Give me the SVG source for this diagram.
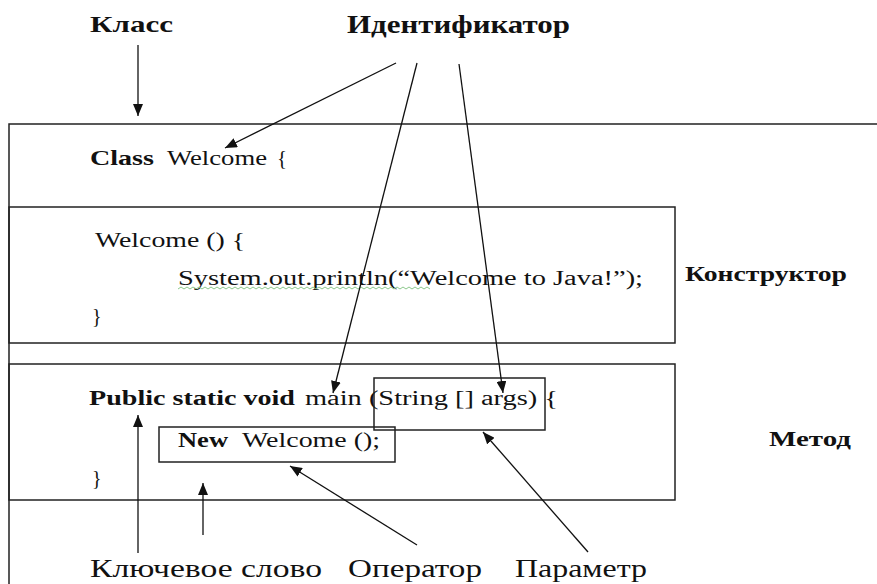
<svg xmlns="http://www.w3.org/2000/svg" width="877" height="584" viewBox="0 0 877 584" font-family="Liberation Serif, DejaVu Serif, Noto Serif, serif">
<defs>
<style>
text{fill:#111}
.b{font-weight:bold}
.box{fill:none;stroke:#222;stroke-width:1.5}
.con{fill:none;stroke:#111;stroke-width:1.3}
</style>
<marker id="ah" viewBox="0 0 12 10" refX="12" refY="5" markerWidth="12" markerHeight="10" orient="auto" markerUnits="userSpaceOnUse"><path d="M0,0 L12,5 L0,10 z" fill="#111"/></marker>
</defs>
<rect width="877" height="584" fill="#fff"/>

<g id="class-container">
<path class="box" d="M9,584 V124 H877"/>
<text class="b" x="90" y="165" font-size="21" textLength="64" lengthAdjust="spacingAndGlyphs">Class</text>
<text x="167" y="165" font-size="21" textLength="100" lengthAdjust="spacingAndGlyphs">Welcome</text>
<text x="277" y="165" font-size="21" textLength="10" lengthAdjust="spacingAndGlyphs">{</text>
</g>

<g id="constructor-box">
<rect class="box" x="9" y="207" width="666" height="136"/>
<text x="95" y="247" font-size="20" textLength="150" lengthAdjust="spacingAndGlyphs">Welcome () {</text>
<text x="178" y="285" font-size="20" textLength="465" lengthAdjust="spacingAndGlyphs">System.out.println(“Welcome to Java!”);</text>
<path d="M178,289 l3,-2 3,2 3,-2 3,2 3,-2 3,2 3,-2 3,2 3,-2 3,2 3,-2 3,2 3,-2 3,2 3,-2 3,2 3,-2 3,2 3,-2 3,2 3,-2 3,2 3,-2 3,2 3,-2 3,2 3,-2 3,2 3,-2 3,2 3,-2 3,2 3,-2 3,2 3,-2 3,2 3,-2 3,2 3,-2 3,2 3,-2 3,2 3,-2 3,2 3,-2 3,2 3,-2 3,2 3,-2 3,2 3,-2 3,2 3,-2 3,2 3,-2 3,2 3,-2 3,2 3,-2 3,2 3,-2 3,2 3,-2 3,2 3,-2 3,2 3,-2 3,2 3,-2 3,2 3,-2 3,2 3,-2 3,2 3,-2 3,2 3,-2 3,2 3,-2 3,2 3,-2 3,2 3,-2 3,2" fill="none" stroke="#8cc88c" stroke-width="1"/>
<text x="92" y="323" font-size="20">}</text>
</g>

<g id="method-box">
<rect class="box" x="9" y="364" width="666" height="136"/>
<text class="b" x="89" y="405" font-size="20" textLength="206" lengthAdjust="spacingAndGlyphs">Public static void</text>
<text x="305" y="405" font-size="20" textLength="253" lengthAdjust="spacingAndGlyphs">main (String [] args) {</text>
<text x="92" y="485" font-size="20">}</text>
</g>

<g id="param-box">
<rect class="box" x="374" y="378" width="171" height="52"/>
</g>

<g id="operator-box">
<rect class="box" x="159" y="427" width="236" height="35"/>
<text class="b" x="178" y="447" font-size="20" textLength="50" lengthAdjust="spacingAndGlyphs">New</text>
<text x="242" y="447" font-size="20" textLength="138" lengthAdjust="spacingAndGlyphs">Welcome ();</text>
</g>

<g id="label-class"><text class="b" x="90" y="32" font-size="24" textLength="83" lengthAdjust="spacingAndGlyphs">Класс</text></g>
<g id="label-identifier"><text class="b" x="347" y="33" font-size="25" textLength="223" lengthAdjust="spacingAndGlyphs">Идентификатор</text></g>
<g id="label-constructor"><text class="b" x="685" y="281" font-size="20" textLength="162" lengthAdjust="spacingAndGlyphs">Конструктор</text></g>
<g id="label-method"><text class="b" x="769" y="446" font-size="20" textLength="82" lengthAdjust="spacingAndGlyphs">Метод</text></g>
<g id="label-keyword"><text x="90" y="577" font-size="26" textLength="232" lengthAdjust="spacingAndGlyphs">Ключевое слово</text></g>
<g id="label-operator"><text x="348" y="577" font-size="26" textLength="134" lengthAdjust="spacingAndGlyphs">Оператор</text></g>
<g id="label-parameter"><text x="515" y="577" font-size="26" textLength="132" lengthAdjust="spacingAndGlyphs">Параметр</text></g>

<g id="connectors">
<line class="con" x1="138" y1="45" x2="138" y2="116" marker-end="url(#ah)"/>
<line class="con" x1="396" y1="63" x2="225" y2="148" marker-end="url(#ah)"/>
<line class="con" x1="417" y1="63" x2="333" y2="393" marker-end="url(#ah)"/>
<line class="con" x1="459" y1="64" x2="503" y2="393" marker-end="url(#ah)"/>
<line class="con" x1="138" y1="553" x2="138" y2="415" marker-end="url(#ah)"/>
<line class="con" x1="203" y1="535" x2="203" y2="483" marker-end="url(#ah)"/>
<line class="con" x1="417" y1="545" x2="290" y2="466" marker-end="url(#ah)"/>
<line class="con" x1="588" y1="552" x2="483" y2="432" marker-end="url(#ah)"/>
</g>
</svg>
